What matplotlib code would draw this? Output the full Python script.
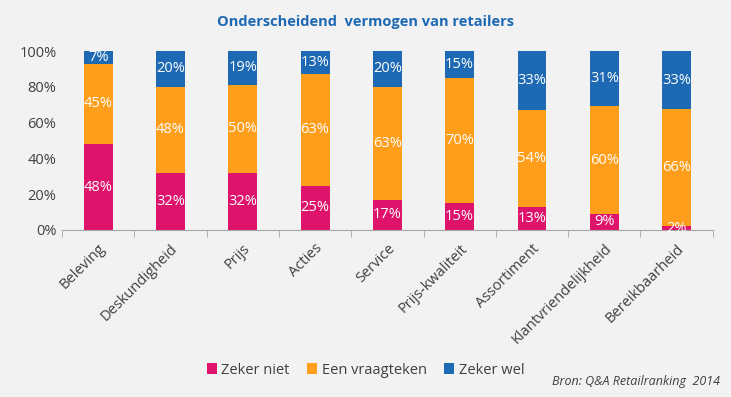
import numpy as np
import matplotlib.pyplot as plt

# data
categorieen = ['Beleving', 'Deskundigheid', 'Prijs', 'Acties', 'Service',
               'Prijs-kwaliteit', 'Assortiment', 'Klantvriendelijkheid', 'Bereikbaarheid']
zeker_niet = [48, 32, 32, 25, 17, 15, 13, 9, 2]
vraagteken = [45, 48, 50, 63, 63, 70, 54, 60, 66]
zeker_wel = [7, 20, 19, 13, 20, 15, 33, 31, 33]
reeksen = ['Zeker niet', 'Een vraagteken', 'Zeker wel']
kleuren = ['#DE146C', '#FF9E1B', '#1E69B3']

plt.rcParams['font.family'] = ['Open Sans', 'DejaVu Sans']

fig = plt.figure(figsize=(7.31, 3.97), dpi=100)
fig.patch.set_facecolor('#F2F2F2')
ax = fig.add_axes([0.0848, 0.4207, 0.8902, 0.4508])
ax.set_facecolor('#F2F2F2')

data = np.array([zeker_niet, vraagteken, zeker_wel], dtype=float)
totaal = data.sum(axis=0)
aandeel = data / totaal  # procent gestapeld
x = np.arange(len(categorieen))
onder = np.zeros(len(categorieen))
for i in range(3):
    ax.bar(x, aandeel[i], 0.4, bottom=onder, color=kleuren[i], label=reeksen[i], zorder=2)
    for j in range(len(x)):
        ax.text(x[j], onder[j] + aandeel[i][j] / 2, '%d%%' % data[i][j], ha='center', va='center',
                color='white', fontsize=10.5)
    onder += aandeel[i]

ax.set_xlim(-0.5, len(x) - 0.5)
ax.set_ylim(0, 1)
ax.set_yticks(np.arange(0, 1.01, 0.2))
ax.set_yticklabels(['%d%%' % (v * 100) for v in np.arange(0, 1.01, 0.2)])
ax.set_xticks(x)
ax.set_xticklabels(categorieen, rotation=45, ha='right', rotation_mode='anchor')
ax.set_xticks(np.arange(-0.5, len(x)), minor=True)
ax.tick_params(axis='x', which='major', length=0, pad=8, labelsize=10.5, colors='#404040')
ax.tick_params(axis='x', which='minor', length=5, color='#A6A6A6')
ax.tick_params(axis='y', length=0, labelsize=10.5, colors='#404040', pad=4)
for s in ['top', 'right', 'left']:
    ax.spines[s].set_visible(False)
ax.spines['bottom'].set_color('#A6A6A6')

fig.text(0.5, 0.945, 'Onderscheidend  vermogen van retailers', ha='center', va='center',
         fontsize=10.5, fontweight='bold', color='#1E69B3')

handles, labels = ax.get_legend_handles_labels()
fig.legend(handles, labels, loc='center', bbox_to_anchor=(0.5, 0.068), ncol=3, frameon=False,
           fontsize=10.5, handlelength=0.7, handleheight=0.7, handletextpad=0.3, columnspacing=1.2,
           labelcolor='#404040')
fig.text(0.985, 0.04, 'Bron: Q&A Retailranking  2014', ha='right', va='center', fontsize=9,
         style='italic', color='#404040')

fig.savefig('out.png', dpi=100, facecolor=fig.get_facecolor())
